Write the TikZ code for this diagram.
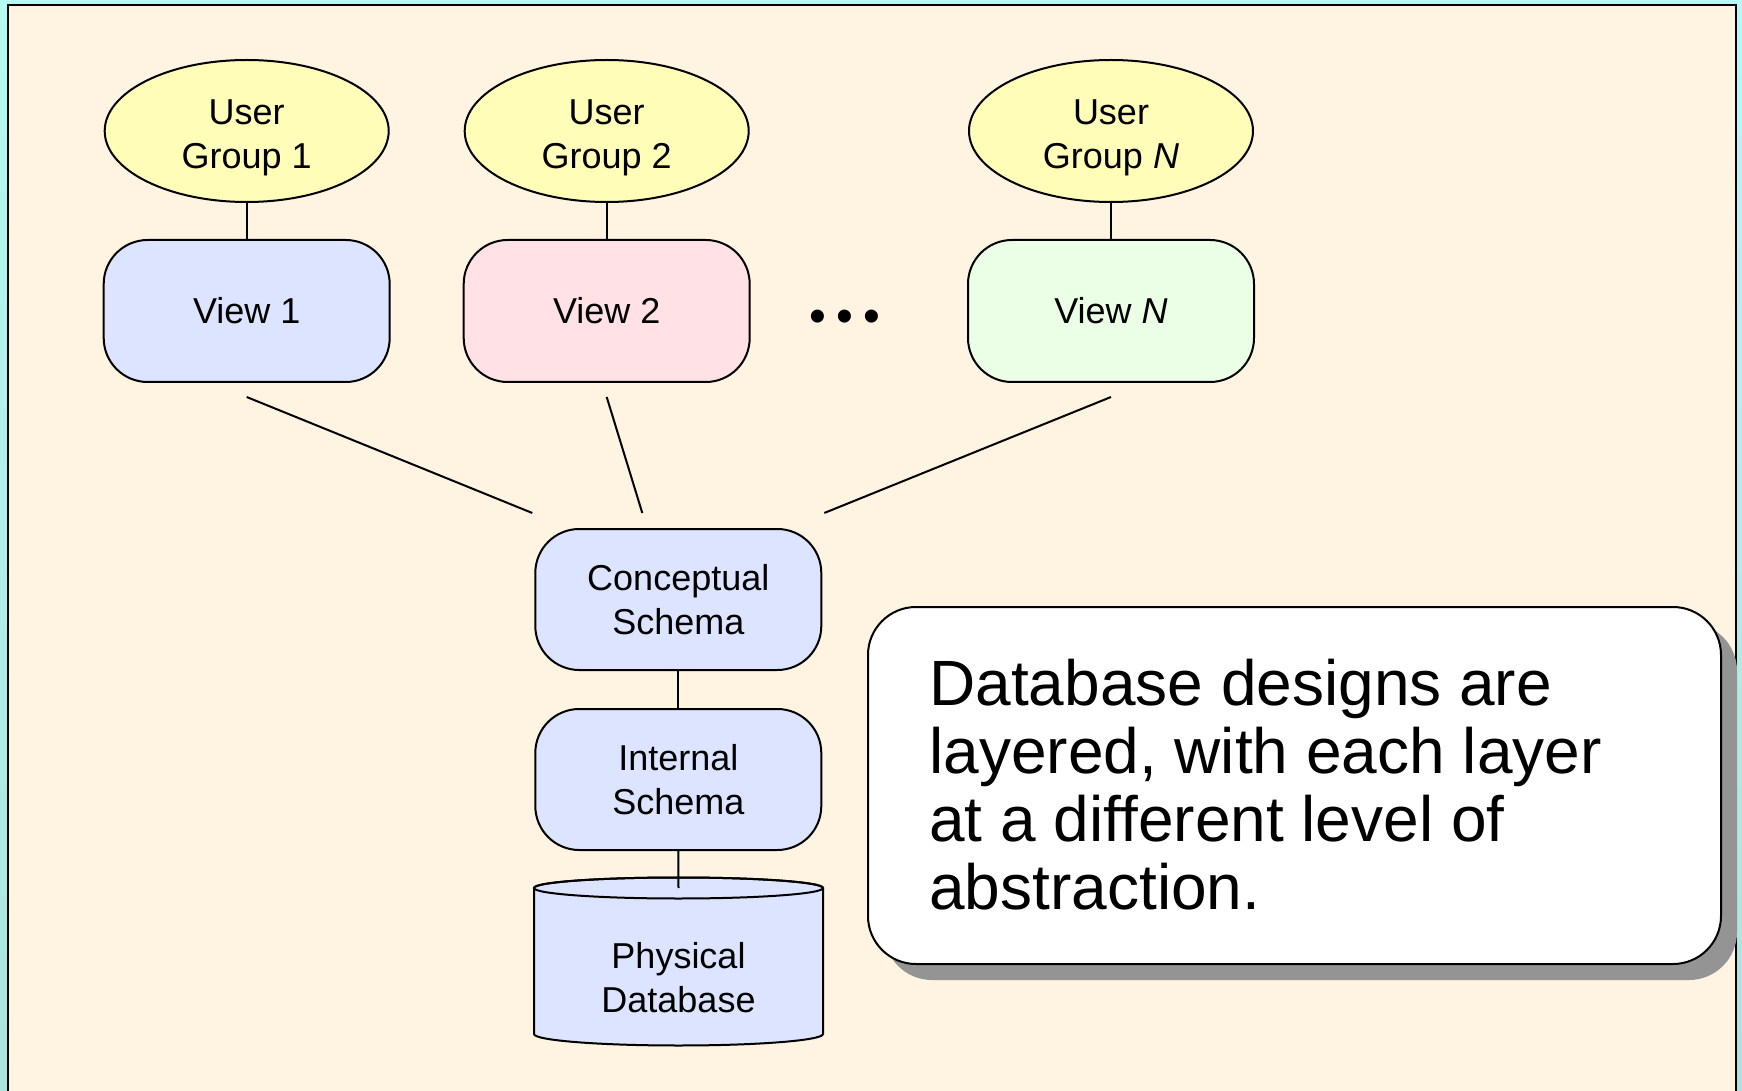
\documentclass[tikz,border=0pt]{standalone}
\usepackage{fontspec}
\setmainfont{Liberation Sans}
\usetikzlibrary{shapes.geometric,calc}

\definecolor{outerbg}{HTML}{B5F8F4}
\definecolor{outerbgdark}{HTML}{ACE4DE}
\definecolor{paper}{HTML}{FFF3E1}
\definecolor{usercol}{HTML}{FFFDB8}
\definecolor{lavender}{HTML}{DCE4FF}
\definecolor{pinkish}{HTML}{FFE1E6}
\definecolor{mint}{HTML}{EAFFE6}
\definecolor{shadowgray}{HTML}{949494}

\tikzset{
  every node/.style={font=\fontsize{18pt}{22pt}\selectfont},
  usergroup/.style={ellipse, draw, line width=1pt, fill=usercol,
    minimum width=142pt, minimum height=71pt, inner sep=0pt, align=center},
  viewbox/.style={rectangle, draw, line width=1pt, rounded corners=22pt,
    minimum width=143pt, minimum height=71pt, inner sep=0pt, align=center},
  schemabox/.style={viewbox, fill=lavender, minimum height=70.5pt},
  link/.style={line width=1pt},
}

\begin{document}
\begin{tikzpicture}[x=0.5pt, y=-0.5pt]
  % canvas and page frame
  \useasboundingbox (0,0) rectangle (1742,1091);
  \shade[top color=outerbg, bottom color=outerbgdark] (0,0) rectangle (1742,1091);
  \draw[line width=1.2pt, fill=paper] (8,5) rectangle (1736,1110);

  % user groups
  \node[usergroup] (ug1) at (246.7,131) {\rule{0pt}{19.5pt}User\\Group 1};
  \node[usergroup] (ug2) at (606.7,131) {\rule{0pt}{19.5pt}User\\Group 2};
  \node[usergroup] (ugn) at (1111,131) {\rule{0pt}{19.5pt}User\\Group \textit{N}};

  % external views
  \node[viewbox, fill=lavender] (v1) at (246.7,311) {View 1};
  \node[viewbox, fill=pinkish]  (v2) at (606.7,311) {View 2};
  \node[viewbox, fill=mint]     (vn) at (1111,311) {View \textit{N}};
  \node[font=\fontsize{24pt}{24pt}\selectfont] (dots) at (845,321) {•\kern5pt•\kern5pt•};

  % conceptual and internal levels
  \node[schemabox] (con) at (678.3,599.5) {Conceptual\\Schema};
  \node[schemabox] (int) at (678.3,779.5) {Internal\\Schema};

  % physical database: cylinder body, then its label
  \coordinate (dbc) at (678.5,978);
  \coordinate (dbtop) at ($(dbc)+(0,-90)$);
  \coordinate (dbbot) at ($(dbc)+(0,56)$);
  \path[draw, line width=1pt, fill=lavender]
    ($(dbtop)+(-144.5,0)$) -- ($(dbbot)+(-144.5,0)$)
    arc[start angle=180, end angle=360, x radius=72.25pt, y radius=5.75pt]
    -- ($(dbtop)+(144.5,0)$)
    arc[start angle=0, end angle=180, x radius=72.25pt, y radius=5.25pt] -- cycle;
  \draw[line width=1pt] (dbtop) ellipse[x radius=72.25pt, y radius=5.25pt];
  \node[align=center, inner sep=0pt] (db) at (dbc) {Physical\\Database};

  % connectors
  \draw[link] (ug1.south) -- (v1.north);
  \draw[link] (ug2.south) -- (v2.north);
  \draw[link] (ugn.south) -- (vn.north);
  \draw[link] ($(v1.south)+(0,14)$) -- ($(con.north west)+(-2,-15)$);
  \draw[link] ($(v2.south)+(0,14)$) -- ($(con.north)+(-36,-15)$);
  \draw[link] ($(vn.south)+(0,14)$) -- ($(con.north east)+(2,-15)$);
  \draw[link] (con.south) -- (int.north);
  \draw[link] (int.south) -- (dbtop);

  % callout with drop shadow
  \fill[shadowgray, rounded corners=24pt] (884,623) rectangle (1737,980);
  \draw[line width=1pt, fill=white, rounded corners=24pt] (868,607) rectangle (1721,964);
  \node[anchor=west, align=left, inner sep=0pt,
        font=\fontsize{32pt}{34pt}\selectfont] (note) at (929,784.4)
    {Database designs are\\layered, with each layer\\at a different level of\\abstraction.};
\end{tikzpicture}
\end{document}
